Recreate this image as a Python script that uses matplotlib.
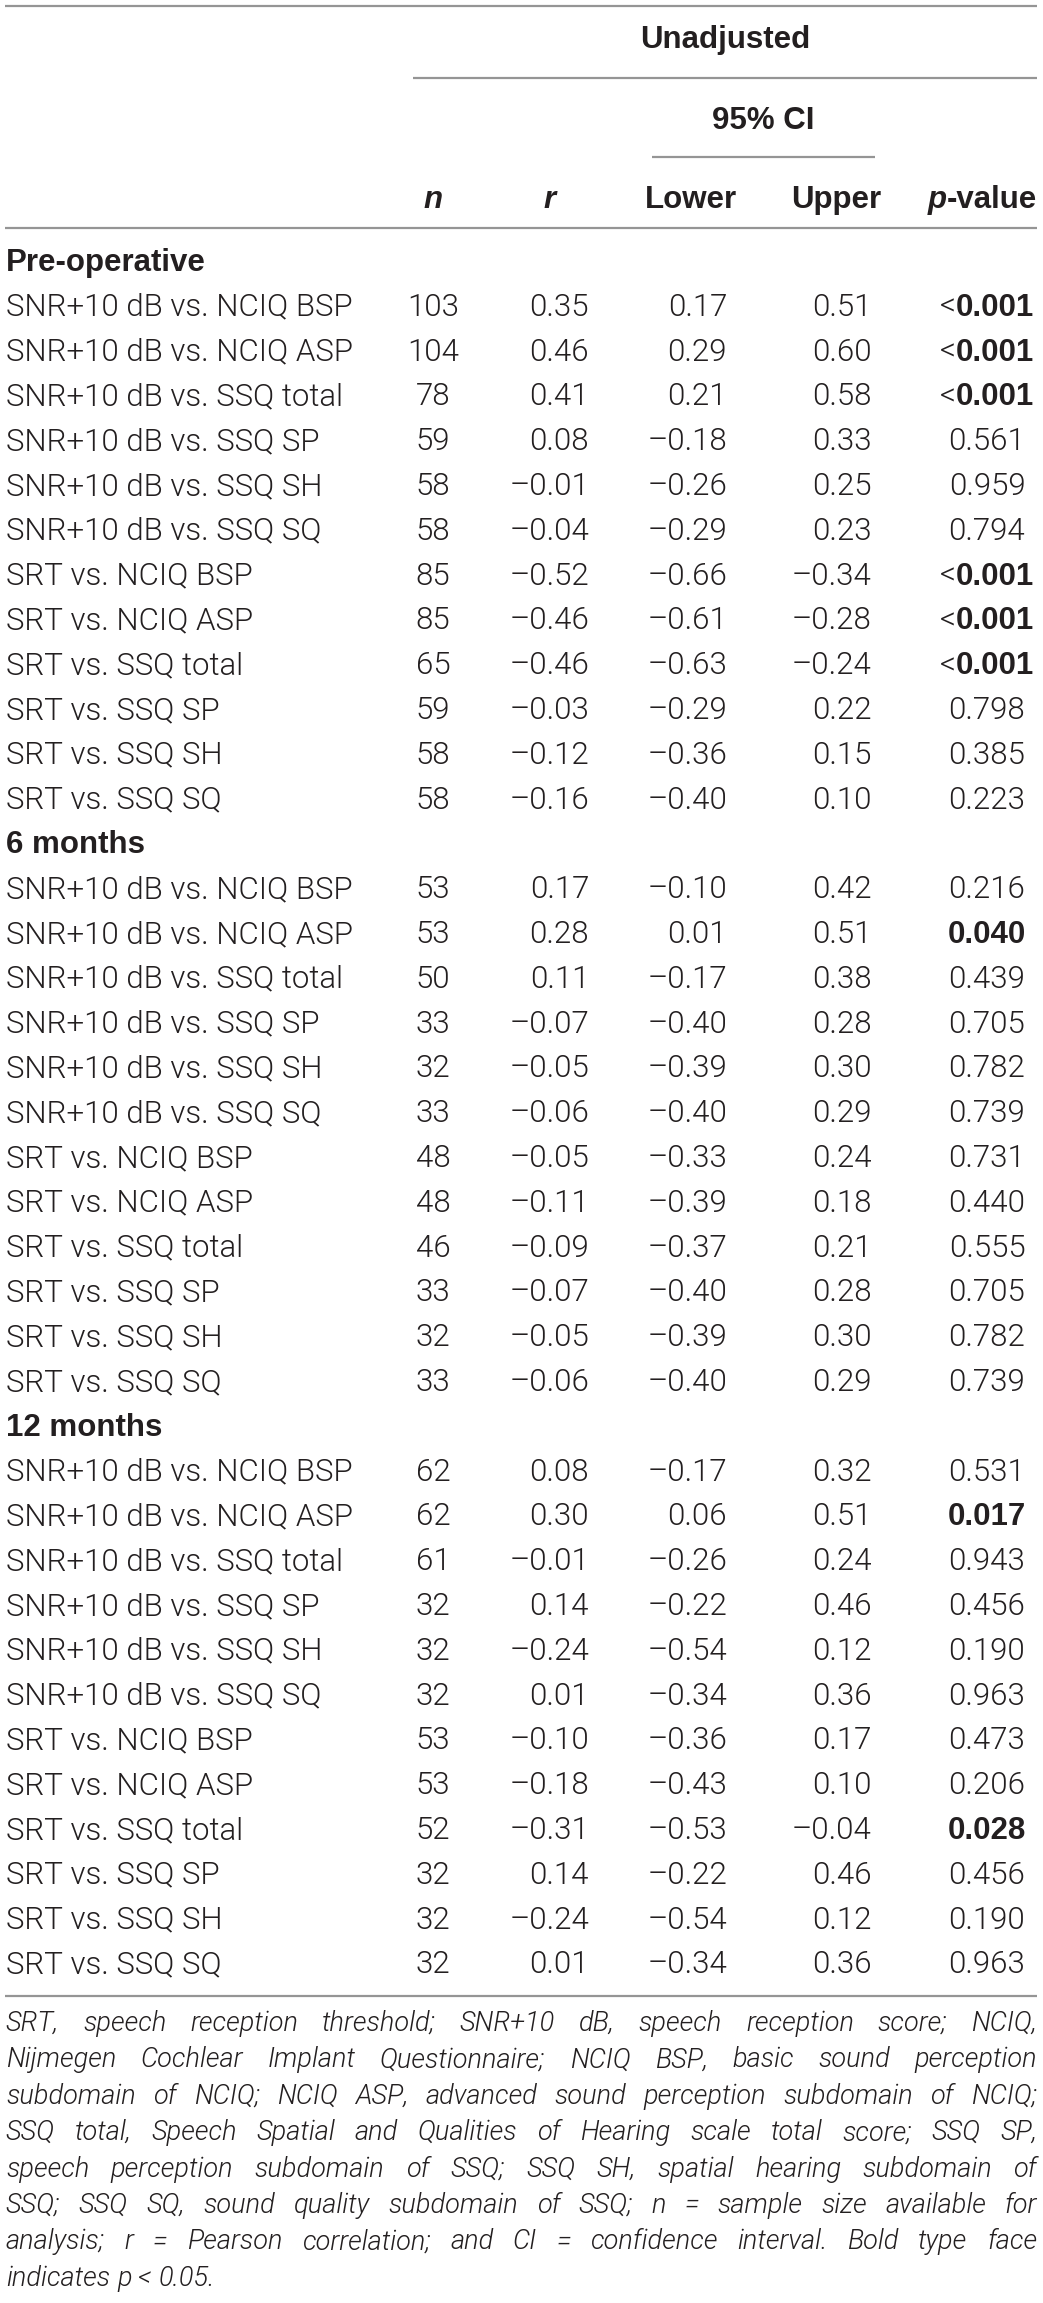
import matplotlib
matplotlib.use("Agg")
import matplotlib.pyplot as plt
from matplotlib import font_manager as fm

comparisons = [
    "SNR+10 dB vs. NCIQ BSP", "SNR+10 dB vs. NCIQ ASP", "SNR+10 dB vs. SSQ total",
    "SNR+10 dB vs. SSQ SP", "SNR+10 dB vs. SSQ SH", "SNR+10 dB vs. SSQ SQ",
    "SRT vs. NCIQ BSP", "SRT vs. NCIQ ASP", "SRT vs. SSQ total",
    "SRT vs. SSQ SP", "SRT vs. SSQ SH", "SRT vs. SSQ SQ",
]
sections = ["Pre-operative", "6 months", "12 months"]

n_pre = [103, 104, 78, 59, 58, 58, 85, 85, 65, 59, 58, 58]
r_pre = [0.35, 0.46, 0.41, 0.08, -0.01, -0.04, -0.52, -0.46, -0.46, -0.03, -0.12, -0.16]
lo_pre = [0.17, 0.29, 0.21, -0.18, -0.26, -0.29, -0.66, -0.61, -0.63, -0.29, -0.36, -0.40]
up_pre = [0.51, 0.60, 0.58, 0.33, 0.25, 0.23, -0.34, -0.28, -0.24, 0.22, 0.15, 0.10]
p_pre = ["<0.001", "<0.001", "<0.001", "0.561", "0.959", "0.794",
         "<0.001", "<0.001", "<0.001", "0.798", "0.385", "0.223"]

n_6m = [53, 53, 50, 33, 32, 33, 48, 48, 46, 33, 32, 33]
r_6m = [0.17, 0.28, 0.11, -0.07, -0.05, -0.06, -0.05, -0.11, -0.09, -0.07, -0.05, -0.06]
lo_6m = [-0.10, 0.01, -0.17, -0.40, -0.39, -0.40, -0.33, -0.39, -0.37, -0.40, -0.39, -0.40]
up_6m = [0.42, 0.51, 0.38, 0.28, 0.30, 0.29, 0.24, 0.18, 0.21, 0.28, 0.30, 0.29]
p_6m = ["0.216", "0.040", "0.439", "0.705", "0.782", "0.739",
        "0.731", "0.440", "0.555", "0.705", "0.782", "0.739"]

n_12m = [62, 62, 61, 32, 32, 32, 53, 53, 52, 32, 32, 32]
r_12m = [0.08, 0.30, -0.01, 0.14, -0.24, 0.01, -0.10, -0.18, -0.31, 0.14, -0.24, 0.01]
lo_12m = [-0.17, 0.06, -0.26, -0.22, -0.54, -0.34, -0.36, -0.43, -0.53, -0.22, -0.54, -0.34]
up_12m = [0.32, 0.51, 0.24, 0.46, 0.12, 0.36, 0.17, 0.10, -0.04, 0.46, 0.12, 0.36]
p_12m = ["0.531", "0.017", "0.943", "0.456", "0.190", "0.963",
         "0.473", "0.206", "0.028", "0.456", "0.190", "0.963"]

footnote = [
    "SRT, speech reception threshold; SNR+10 dB, speech reception score; NCIQ,",
    "Nijmegen Cochlear Implant Questionnaire; NCIQ BSP, basic sound perception",
    "subdomain of NCIQ; NCIQ ASP, advanced sound perception subdomain of NCIQ;",
    "SSQ total, Speech Spatial and Qualities of Hearing scale total score; SSQ SP,",
    "speech perception subdomain of SSQ; SSQ SH, spatial hearing subdomain of",
    "SSQ; SSQ SQ, sound quality subdomain of SSQ; n = sample size available for",
    "analysis; r = Pearson correlation; and CI = confidence interval. Bold type face",
    "indicates p < 0.05.",
]

data = [
    (n_pre, r_pre, lo_pre, up_pre, p_pre),
    (n_6m, r_6m, lo_6m, up_6m, p_6m),
    (n_12m, r_12m, lo_12m, up_12m, p_12m),
]


def find_font(families, weight, style="normal"):
    # look for an installed face with the wanted weight, fall back by name
    for fam in families:
        for f in fm.fontManager.ttflist:
            w = f.weight if isinstance(f.weight, int) else fm.weight_dict.get(f.weight, 400)
            if f.name == fam and w == weight and f.style == style:
                return fm.FontProperties(fname=f.fname)
    return fm.FontProperties(family="Liberation Sans", style=style,
                             weight="bold" if weight >= 600 else "normal")


light = find_font(["Roboto", "Lato", "Open Sans"], 300)
light_it = find_font(["Roboto", "Lato", "Open Sans"], 300, "italic")
bold = fm.FontProperties(family="Liberation Sans", weight="bold")
bold_it = fm.FontProperties(family="Liberation Sans", weight="bold", style="italic")

W, H = 1043, 2303
txt = "#231f20"
rule = "#959595"
fs = 22.5
fs_note = 19.5

fig = plt.figure(figsize=(W / 100, H / 100), dpi=100)
ax = fig.add_axes([0, 0, 1, 1])
ax.set_xlim(0, W)
ax.set_ylim(H, 0)
ax.axis("off")
renderer = fig.canvas.get_renderer()


def put(x, y, s, fp, ha="left", size=fs):
    return ax.text(x, y + 11, s, fontproperties=fp, size=size, ha=ha,
                   va="baseline", color=txt)


def width(t):
    return t.get_window_extent(renderer).width


def fmt(v):
    return f"{v:.2f}".replace("-", "\u2013")


# header rules
for y, x0, x1 in [(6, 5, 1037), (78, 413, 1037), (157, 652, 875), (228, 5, 1037)]:
    ax.plot([x0, x1], [y, y], color=rule, lw=1.6, solid_capstyle="butt")

put(725, 37, "Unadjusted", bold, "center")
put(763, 118, "95% CI", bold, "center")
put(433, 197, "n", bold_it, "center")
put(550, 197, "r", bold_it, "center")
put(691, 197, "Lower", bold, "center")
put(836, 197, "Upper", bold, "center")
val = put(1037, 197, "-value", bold, "right")
put(1037 - width(val), 197, "p", bold_it, "right")

x_n, x_r, x_lo, x_up, x_p = 433, 589, 727, 872, 987
y = 260
step = 44.8
for name, (ns, rs, los, ups, ps) in zip(sections, data):
    put(6, y, name, bold)
    y += step
    for i, label in enumerate(comparisons):
        put(6, y, label, light)
        put(x_n, y, str(ns[i]), light, "center")
        put(x_r, y, fmt(rs[i]), light, "right")
        put(x_lo, y, fmt(los[i]), light, "right")
        put(x_up, y, fmt(ups[i]), light, "right")
        p = ps[i]
        if p.startswith("<"):
            # light "<" followed by the bold number
            lt = put(0, y, "<", light, "left")
            num = put(0, y, p[1:], bold, "left")
            x0 = x_p - (width(lt) + width(num)) / 2
            lt.set_x(x0)
            num.set_x(x0 + width(lt))
        else:
            put(x_p, y, p, bold if float(p) < 0.05 else light, "center")
        y += step

ax.plot([5, 1037], [1996, 1996], color=rule, lw=1.6, solid_capstyle="butt")

# justified italic footnote
left, right = 6, 1037
y = 2020
for k, line in enumerate(footnote):
    words = line.split(" ")
    items = [put(left, y, w, light_it, "left", fs_note) for w in words]
    widths = [width(t) for t in items]
    if k == len(footnote) - 1:
        gap = fs_note * 0.35
    else:
        gap = (right - left - sum(widths)) / (len(words) - 1)
    x = left
    for t, w in zip(items, widths):
        t.set_x(x)
        x += w + gap
    y += 36.4

fig.savefig("out.png", dpi=100, facecolor="white")
